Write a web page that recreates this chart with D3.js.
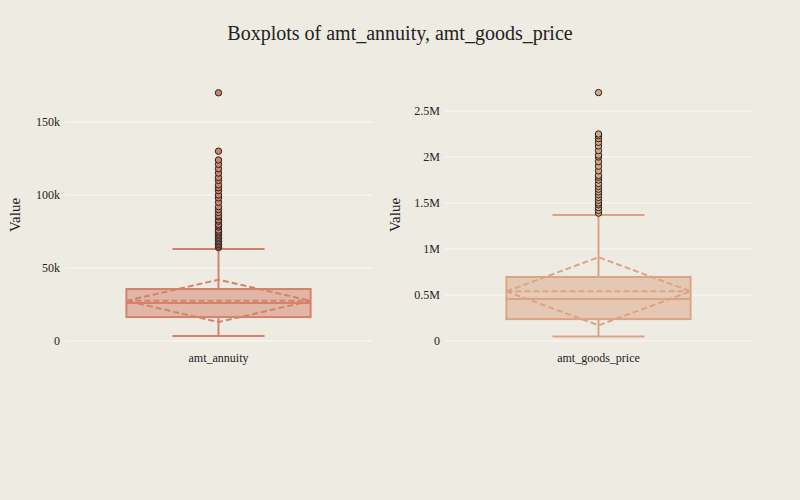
<!DOCTYPE html>
<html><head><meta charset="utf-8">
<script src="https://cdn.jsdelivr.net/npm/d3@7"></script>
<style>body{margin:0;background:#eeebe3}svg{font-family:"Liberation Serif","Times New Roman",serif}</style>
</head><body><svg id="c" width="800" height="500"></svg>
<script>
var names = ['amt_annuity', 'amt_goods_price'];
var q1 = [16400, 238000];
var median = [26000, 457000];
var q3 = [35600, 696000];
var lowerFence = [3400, 50000];
var upperFence = [63000, 1370000];
var means = [27500, 540000];
var sds = [14500, 370000];
var outliers = [
  [64000, 65000, 66000, 67000, 68000, 69000, 70000, 71000, 72000, 73000, 74000, 75000, 76000, 78000, 79000, 80000, 82000, 83000, 85000, 86000, 88000, 90000, 92000, 95000, 98000, 100000, 103000, 105000, 107000, 110000, 112000, 115000, 118000, 121000, 124000, 130000, 170000],
  [1390000, 1420000, 1450000, 1480000, 1500000, 1530000, 1560000, 1590000, 1620000, 1650000, 1680000, 1710000, 1750000, 1780000, 1800000, 1850000, 1900000, 1950000, 2000000, 2020000, 2070000, 2120000, 2160000, 2200000, 2230000, 2250000, 2700000]
];
var yTicks = [[0, 50000, 100000, 150000], [0, 500000, 1000000, 1500000, 2000000, 2500000]];
var tickLabels = [['0', '50k', '100k', '150k'], ['0', '0.5M', '1M', '1.5M', '2M', '2.5M']];
var yMax = [178000, 2780000];
var colors = ['#d4826a', '#dba583'];

var svg = d3.select('#c');
svg.append('text').attr('x', 400).attr('y', 40).attr('text-anchor', 'middle')
  .attr('font-size', 20).attr('fill', '#222').text('Boxplots of amt_annuity, amt_goods_price');

var panels = [{x0: 65, x1: 372}, {x0: 445, x1: 752}];

panels.forEach(function (p, i) {
  var y = d3.scaleLinear().domain([0, yMax[i]]).range([341, 341 - 73 * yMax[i] / 50000 * (i == 0 ? 1 : 50000 / 500000 * 46 / 73 * 10)]);
  if (i == 1) y = d3.scaleLinear().domain([0, yMax[i]]).range([341, 341 - 46 * yMax[i] / 500000]);
  var x = d3.scaleBand().domain([names[i]]).range([p.x0, p.x1]).padding(0.25);
  var g = svg.append('g');
  var col = colors[i];

  g.selectAll('line.grid').data(yTicks[i]).enter().append('line')
    .attr('x1', p.x0).attr('x2', p.x1).attr('y1', y).attr('y2', y)
    .attr('stroke', '#f6f5f0').attr('stroke-width', 1.5);

  var ax = g.append('g').attr('transform', 'translate(' + p.x0 + ',0)')
    .call(d3.axisLeft(y).tickValues(yTicks[i]).tickFormat(function (d, k) { return tickLabels[i][k]; }).tickSize(0).tickPadding(5));
  ax.select('.domain').remove();
  ax.selectAll('text').attr('font-size', 12).attr('fill', '#222').attr('font-family', '"Liberation Serif",serif');

  var xa = g.append('g').attr('transform', 'translate(0,341)').call(d3.axisBottom(x).tickSize(0).tickPadding(12));
  xa.select('.domain').remove();
  xa.selectAll('text').attr('font-size', 12).attr('fill', '#222').attr('font-family', '"Liberation Serif",serif');

  g.append('text').attr('transform', 'translate(' + (p.x0 - 45) + ',' + 215 + ') rotate(-90)')
    .attr('text-anchor', 'middle').attr('font-size', 15).attr('fill', '#222').text('Value');

  var bx = x(names[i]), bw = x.bandwidth(), cx = bx + bw / 2;
  // whisker
  g.append('line').attr('x1', cx).attr('x2', cx).attr('y1', y(lowerFence[i])).attr('y2', y(q1[i])).attr('stroke', col).attr('stroke-width', 2);
  g.append('line').attr('x1', cx).attr('x2', cx).attr('y1', y(q3[i])).attr('y2', y(upperFence[i])).attr('stroke', col).attr('stroke-width', 2);
  [lowerFence[i], upperFence[i]].forEach(function (v) {
    g.append('line').attr('x1', cx - bw / 4).attr('x2', cx + bw / 4).attr('y1', y(v)).attr('y2', y(v)).attr('stroke', col).attr('stroke-width', 2);
  });
  g.append('rect').attr('x', bx).attr('width', bw).attr('y', y(q3[i])).attr('height', y(q1[i]) - y(q3[i]))
    .attr('fill', col).attr('fill-opacity', 0.5).attr('stroke', col).attr('stroke-width', 2);
  g.append('line').attr('x1', bx).attr('x2', bx + bw).attr('y1', y(median[i])).attr('y2', y(median[i])).attr('stroke', col).attr('stroke-width', 2);
  // mean and sd diamond
  var m = means[i], s = sds[i];
  g.append('line').attr('x1', bx).attr('x2', bx + bw).attr('y1', y(m)).attr('y2', y(m))
    .attr('stroke', col).attr('stroke-width', 2).attr('stroke-dasharray', '6,3');
  g.append('path').attr('d', d3.line()([[bx, y(m)], [cx, y(m + s)], [bx + bw, y(m)], [cx, y(m - s)], [bx, y(m)]]))
    .attr('fill', 'none').attr('stroke', col).attr('stroke-width', 2).attr('stroke-dasharray', '6,3');

  g.selectAll('circle').data(outliers[i]).enter().append('circle')
    .attr('cx', cx).attr('cy', y).attr('r', 3.2)
    .attr('fill', col).attr('stroke', '#222').attr('stroke-width', 1);
});
</script></body></html>
